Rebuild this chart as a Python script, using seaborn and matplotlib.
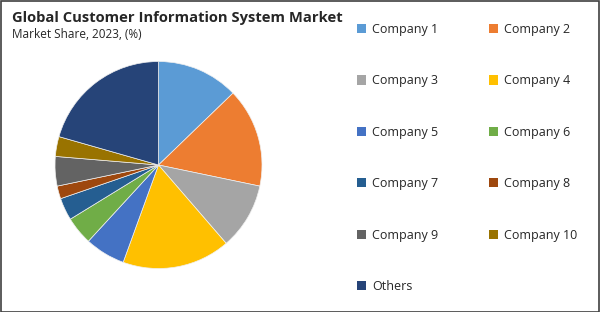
import matplotlib
matplotlib.use("Agg")
import matplotlib.pyplot as plt
import seaborn as sns
from matplotlib.patches import Patch, Rectangle

sns.set_theme(style="white")
plt.rcParams['font.family'] = ['Open Sans', 'DejaVu Sans']

title = "Global Customer Information System Market"
subtitle = "Market Share, 2023, (%)"
companies = ["Company 1", "Company 2", "Company 3", "Company 4", "Company 5",
             "Company 6", "Company 7", "Company 8", "Company 9", "Company 10", "Others"]
shares = [12.8, 15.5, 10.4, 16.9, 6.3, 4.4, 3.5, 2.0, 4.6, 3.1, 20.6]
colors = ["#5B9BD5", "#ED7D31", "#A5A5A5", "#FFC000", "#4472C4", "#70AD47",
          "#255E91", "#9E480E", "#636363", "#997300", "#264478"]
palette = sns.color_palette(colors)

W, H = 600, 312
fig = plt.figure(figsize=(W / 100, H / 100), dpi=100)
fig.patch.set_facecolor("white")

# pie axes
cx, cy, r = 158.5, 165, 103.5
ax = fig.add_axes([(cx - r) / W, (H - cy - r) / H, 2 * r / W, 2 * r / H])
ax.pie(shares, colors=palette, startangle=90, counterclock=False, radius=1,
       wedgeprops=dict(edgecolor="#f0f0f0", linewidth=0.5))
ax.set_xlim(-1, 1)
ax.set_ylim(-1, 1)
ax.set_aspect("equal")
ax.axis("off")

fig.text(12 / W, 1 - 18 / H, title, fontsize=10.6, fontweight="bold",
         color="#262626", va="center", ha="left")
fig.text(12 / W, 1 - 35 / H, subtitle, fontsize=8.5, color="#262626",
         va="center", ha="left")

# legend: row-wise ordering in 2 columns
order = [0, 2, 4, 6, 8, 10, 1, 3, 5, 7, 9]
handles = [Patch(facecolor=palette[i], edgecolor="none") for i in order]
labels = [companies[i] for i in order]
leg = fig.legend(handles, labels, ncol=2, loc="upper left",
                 bbox_to_anchor=(357 / W, 1 - 23 / H), frameon=False,
                 fontsize=9, labelspacing=3.07, handlelength=0.75,
                 handleheight=0.75, handletextpad=0.45, columnspacing=4.05,
                 borderaxespad=0, borderpad=0)
for t in leg.get_texts():
    t.set_color("#262626")

fig.patches.append(Rectangle((0.5 / W, 0.5 / H), 1 - 1.5 / W, 1 - 1.5 / H,
                             transform=fig.transFigure, fill=False,
                             edgecolor="#404040", linewidth=1.2))

fig.savefig("out.png", dpi=100, facecolor=fig.get_facecolor())
